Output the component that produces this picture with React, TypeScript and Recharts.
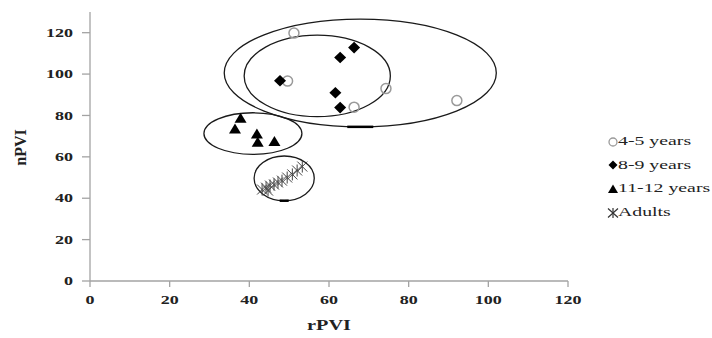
import React from 'react';
import { ScatterChart, Scatter, XAxis, YAxis, ReferenceArea, Legend } from 'recharts';

const X_TICKS = [0, 20, 40, 60, 80, 100, 120];
const Y_TICKS = [0, 20, 40, 60, 80, 100, 120];
const SERIES_NAMES = ['4-5 years', '8-9 years', '11-12 years', 'Adults'];

const age45: [number, number][] = [
  [51.2, 119.8], [49.6, 96.6], [66.3, 84.0], [74.3, 93.0], [92.1, 87.2],
];
const age89: [number, number][] = [
  [47.7, 96.8], [62.8, 108.0], [66.3, 112.8], [61.6, 91.0], [62.8, 83.8],
];
const age1112: [number, number][] = [
  [37.8, 78.6], [36.4, 73.4], [41.9, 71.0], [42.1, 67.0], [46.3, 67.4],
];
const adults: [number, number][] = [
  [43.2, 44.2], [44.2, 45.1], [44.7, 43.7], [45.2, 46.1], [46.2, 46.6],
  [47.2, 47.6], [48.2, 48.5], [49.5, 50.0], [50.8, 51.5], [52.0, 53.4], [53.3, 55.3],
];

// group ellipses: x range, y range
const ellipseX1 = [33.7, 38.7, 28.6, 41.2];
const ellipseX2 = [102.0, 75.4, 53.2, 56.3];
const ellipseY1 = [74.5, 79.4, 61.2, 38.8];
const ellipseY2 = [126.6, 118.8, 81.3, 60.4];
const ellipseMark = [26, 0, 0, 9];

const toPts = (a: [number, number][]) => a.map(([x, y]) => ({ x, y }));

const SERIF = '"Liberation Serif", "Times New Roman", serif';
const AXIS_GRAY = '#a3a3a3';

const CircleShape = (p: any) => (
  <circle cx={p.cx} cy={p.cy} r={5} fill="none" stroke="#9a9a9a" strokeWidth={1.5} />
);
const DiamondShape = (p: any) => (
  <path d={`M${p.cx},${p.cy - 5.8} L${p.cx + 6},${p.cy} L${p.cx},${p.cy + 5.8} L${p.cx - 6},${p.cy} Z`} fill="#000" />
);
const TriangleShape = (p: any) => (
  <path d={`M${p.cx},${p.cy - 5.5} L${p.cx + 6},${p.cy + 4.5} L${p.cx - 6},${p.cy + 4.5} Z`} fill="#000" />
);
const StarShape = (p: any) => (
  <g stroke="#444" strokeWidth={1} fill="none">
    <line x1={p.cx - 5} y1={p.cy - 5} x2={p.cx + 5} y2={p.cy + 5} />
    <line x1={p.cx - 5} y1={p.cy + 5} x2={p.cx + 5} y2={p.cy - 5} />
    <line x1={p.cx} y1={p.cy - 6} x2={p.cx} y2={p.cy + 6} />
  </g>
);

const makeEllipse = (markW: number) => (p: any) => {
  const cx = p.x + p.width / 2;
  const cy = p.y + p.height / 2;
  return (
    <g>
      <ellipse cx={cx} cy={cy} rx={p.width / 2} ry={p.height / 2} fill="none" stroke="#1a1a1a" strokeWidth={1.3} />
      {markW > 0 && (
        <line x1={cx - markW / 2} y1={p.y + p.height} x2={cx + markW / 2} y2={p.y + p.height} stroke="#000" strokeWidth={2.5} />
      )}
    </g>
  );
};

const XTick = (p: any) => (
  <g transform={`translate(${p.x},${p.y})`}>
    <text transform="scale(1.5,1)" textAnchor="middle" dy="0.71em" fontFamily={SERIF} fontWeight="bold" fontSize={12} fill="#222">
      {p.payload.value}
    </text>
  </g>
);
const YTick = (p: any) => (
  <g transform={`translate(${p.x},${p.y})`}>
    <text transform="scale(1.5,1)" textAnchor="end" dy="0.355em" fontFamily={SERIF} fontWeight="bold" fontSize={12} fill="#222">
      {p.payload.value}
    </text>
  </g>
);

const XLabel = (props: any) => {
  const vb = props.viewBox || { x: 90, y: 281, width: 478, height: 57 };
  const cx = vb.x + vb.width / 2;
  const cy = vb.y + vb.height - 13;
  return (
    <g transform={`translate(${cx},${cy})`}>
      <text transform="scale(1.35,1)" textAnchor="middle" dominantBaseline="central" fontFamily={SERIF} fontWeight="bold" fontSize={15} fill="#222">
        rPVI
      </text>
    </g>
  );
};
const YLabel = (props: any) => {
  const vb = props.viewBox || { x: 0, y: 12, width: 90, height: 269 };
  const cx = vb.x + 20;
  const cy = vb.y + vb.height / 2 + 1;
  return (
    <text x={cx} y={cy} transform={`rotate(-90, ${cx}, ${cy})`} textAnchor="middle" dominantBaseline="central" fontFamily={SERIF} fontWeight="bold" fontSize={16} fill="#222">
      nPVI
    </text>
  );
};

const LegendIcon = ({ i }: { i: number }) => (
  <svg width={14} height={14} viewBox="-7 -7 14 14" style={{ display: 'block' }}>
    {i === 0 && <circle cx={0} cy={0} r={4} fill="none" stroke="#9a9a9a" strokeWidth={1.3} />}
    {i === 1 && <path d="M0,-4.5 L4.5,0 L0,4.5 L-4.5,0 Z" fill="#000" />}
    {i === 2 && <path d="M0,-4.5 L5,4 L-5,4 Z" fill="#000" />}
    {i === 3 && (
      <g stroke="#333" strokeWidth={1.2}>
        <line x1={-5} y1={-4.5} x2={5} y2={4.5} />
        <line x1={-5} y1={4.5} x2={5} y2={-4.5} />
        <line x1={0} y1={-5} x2={0} y2={5} />
      </g>
    )}
  </svg>
);

const LegendContent = () => (
  <div style={{ fontFamily: SERIF, fontSize: 12, color: '#222' }}>
    {SERIES_NAMES.map((n, i) => (
      <div key={n} style={{ display: 'flex', alignItems: 'center', height: 23.6 }}>
        <LegendIcon i={i} />
        <span style={{ display: 'inline-block', transform: 'scaleX(1.65)', transformOrigin: 'left center', whiteSpace: 'nowrap', marginLeft: -2 }}>
          {n}
        </span>
      </div>
    ))}
  </div>
);

export default function App() {
  return (
    <div style={{ position: 'absolute', left: 0, top: 0, width: 712, height: 338, background: '#fff' }}>
      <ScatterChart width={712} height={338} margin={{ top: 12, right: 144, bottom: 0, left: 0 }}>
        <XAxis
          type="number"
          dataKey="x"
          domain={[0, 120]}
          ticks={X_TICKS}
          height={57}
          axisLine={{ stroke: AXIS_GRAY, strokeWidth: 1.3 }}
          tickLine={{ stroke: AXIS_GRAY, strokeWidth: 1.3 }}
          tickSize={6}
          tickMargin={8}
          tick={<XTick />}
          interval={0}
          allowDataOverflow
          label={{ content: XLabel }}
        />
        <YAxis
          type="number"
          dataKey="y"
          domain={[0, 130]}
          ticks={Y_TICKS}
          width={90}
          axisLine={{ stroke: AXIS_GRAY, strokeWidth: 1.3 }}
          tickLine={{ stroke: AXIS_GRAY, strokeWidth: 1.3 }}
          tickSize={8}
          tickMargin={9}
          tick={<YTick />}
          interval={0}
          allowDataOverflow
          label={{ content: YLabel }}
        />
        {ellipseX1.map((x1, i) => (
          <ReferenceArea
            key={i}
            x1={x1}
            x2={ellipseX2[i]}
            y1={ellipseY1[i]}
            y2={ellipseY2[i]}
            ifOverflow="visible"
            shape={makeEllipse(ellipseMark[i])}
          />
        ))}
        <Scatter name={SERIES_NAMES[0]} data={toPts(age45)} shape={CircleShape} isAnimationActive={false} />
        <Scatter name={SERIES_NAMES[1]} data={toPts(age89)} shape={DiamondShape} isAnimationActive={false} />
        <Scatter name={SERIES_NAMES[2]} data={toPts(age1112)} shape={TriangleShape} isAnimationActive={false} />
        <Scatter name={SERIES_NAMES[3]} data={toPts(adults)} shape={StarShape} isAnimationActive={false} />
        <Legend
          layout="horizontal"
          verticalAlign="middle"
          align="center"
          content={<LegendContent />}
          wrapperStyle={{ position: 'absolute', left: 606, top: 130, width: 106, height: 100 }}
        />
      </ScatterChart>
    </div>
  );
}
